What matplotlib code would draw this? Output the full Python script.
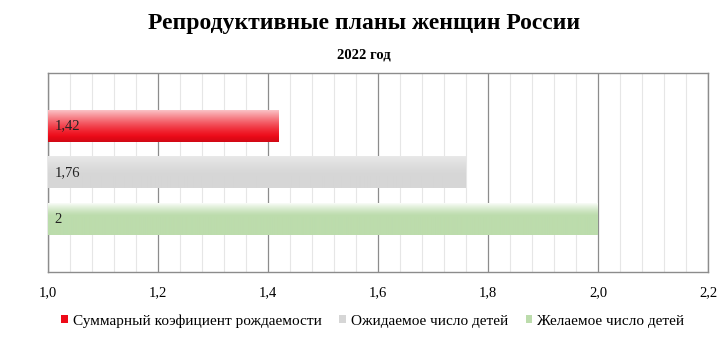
import numpy as np
import matplotlib
matplotlib.use("Agg")
import matplotlib.pyplot as plt
from matplotlib.colors import to_rgb

plt.rcParams['font.family'] = ['Liberation Serif', 'DejaVu Serif']

series = ["Суммарный коэфициент рождаемости", "Ожидаемое число детей", "Желаемое число детей"]
values = [1.42, 1.76, 2.0]
labels = ["1,42", "1,76", "2"]
colors = ["#EE0A18", "#D6D6D6", "#BCDCAC"]
xticks = [1.0, 1.2, 1.4, 1.6, 1.8, 2.0, 2.2]
xticklabels = ["1,0", "1,2", "1,4", "1,6", "1,8", "2,0", "2,2"]

fig = plt.figure(figsize=(7.28, 3.39), dpi=100)
ax = fig.add_axes([48/728, 1-272/339, 660/728, 199/339])

xmin, xmax = 1.0, 2.2
ypos = np.arange(len(values))
h = 0.68
bars = ax.barh(ypos, [v - xmin for v in values], left=xmin, height=h,
               color=colors, zorder=2)

# gradient profiles: (white mix at top, extent of fade, darkening at bottom)
profiles = [(0.75, 0.85, 0.12), (0.45, 0.6, 0.0), (0.9, 0.4, 0.0)]

for b, c, lab, s, (m0, ext, dark) in zip(bars, colors, labels, series, profiles):
    x0, y0 = b.get_x(), b.get_y()
    w, hh = b.get_width(), b.get_height()
    b.set_alpha(0)
    base = np.array(to_rgb(c))
    t = np.linspace(0, 1, 64)
    frac = np.clip(t / ext, 0, 1)
    mix = m0 * (1 - frac) ** 1.3
    grad = base[None, :] * (1 - mix[:, None]) + mix[:, None]
    dk = dark * np.clip((t - 0.8) / 0.2, 0, 1)
    grad = grad * (1 - dk[:, None])
    img = np.repeat(grad[:, None, :], 2, axis=1)
    ax.imshow(img, extent=(x0, x0 + w, y0 + hh, y0), aspect='auto',
              interpolation='bilinear', zorder=3)
    ax.text(x0 + 0.012, y0 + hh / 2, lab, va='center', ha='left',
            fontsize=10.5, color='#222222', zorder=4)
    ax.barh([np.nan], [0], color=c, label=s)

ax.set_xticks(xticks)
ax.set_xticklabels(xticklabels, fontsize=10.5)
ax.set_xticks(np.arange(1.0, 2.2001, 0.04), minor=True)
ax.tick_params(axis='x', which='both', length=0, pad=10)
ax.set_yticks([])
ax.grid(axis='x', which='major', color='#8c8c8c', linewidth=0.9, zorder=1)
ax.grid(axis='x', which='minor', color='#e6e6e6', linewidth=0.8, zorder=0)
ax.set_axisbelow(True)
for sp in ax.spines.values():
    sp.set_color('#8c8c8c')
    sp.set_linewidth(1.0)
ax.set_xlim(xmin, xmax)
ax.set_ylim(3.12, -1.12)

fig.text(0.5, 1 - 23/339, "Репродуктивные планы женщин России", ha='center', va='center',
         fontsize=17, fontweight='bold')
fig.text(0.5, 1 - 55/339, "2022 год", ha='center', va='center', fontsize=10.5, fontweight='bold')

leg = fig.legend(loc='center', bbox_to_anchor=(0.512, 1 - 321/339), ncol=3, frameon=False,
                 fontsize=11, handlelength=0.45, handleheight=0.45, handletextpad=0.3,
                 columnspacing=1.15)

fig.savefig("out.png", dpi=100)
